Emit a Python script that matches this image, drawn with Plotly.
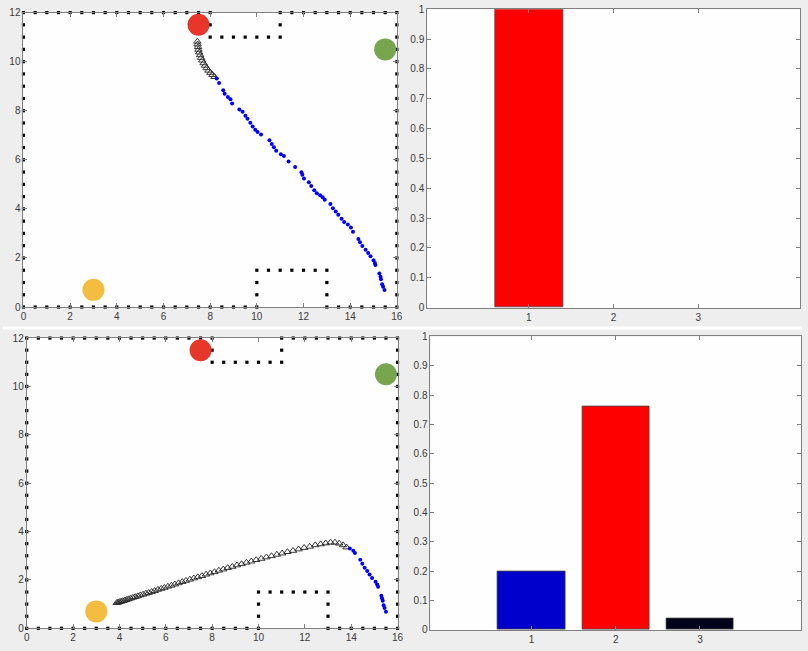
import numpy as np
import plotly.graph_objects as go

# ---------------- data ----------------
# wall segments (x0, y0, x1, y1); wall blocks are placed every 0.5 units along them
wall_segments = [
    (0, 0, 10, 0), (13, 0, 16, 0),          # bottom wall (with gap at obstacle)
    (10, 0.5, 10, 1.5), (13, 0.5, 13, 1.5),  # obstacle sides
    (10.5, 1.5, 12.5, 1.5),                  # obstacle top
    (0, 12, 8, 12), (11, 12, 16, 12),        # top wall
    (8, 11, 8, 11.5), (11, 11, 11, 11.5),    # notch sides
    (8.5, 11, 10.5, 11),                     # notch bottom
    (0, 0.5, 0, 11.5), (16, 0.5, 16, 11.5),  # left / right walls
]
wall_step = 0.5

goal_names = ["red", "green", "yellow"]
goal_x = [7.5, 15.5, 3.0]
goal_y = [11.5, 10.5, 0.7]
goal_colors = ["#e8372a", "#78a64f", "#f4bd41"]

# top panel trajectory
top_tri_x = [7.45, 7.46, 7.48, 7.50, 7.53, 7.57, 7.61, 7.66, 7.72, 7.78, 7.85, 7.93, 8.01, 8.10, 8.19]
top_tri_y = [10.82, 10.71, 10.60, 10.49, 10.38, 10.27, 10.16, 10.05, 9.94, 9.84, 9.74, 9.64, 9.55, 9.46, 9.38]
top_dot_x = [8.28, 8.38, 8.56, 8.62, 8.76, 8.87, 8.94, 9.25, 9.39, 9.51, 9.60, 9.72, 9.82, 9.93, 10.03,
             10.18, 10.54, 10.64, 10.73, 10.83, 11.03, 11.16, 11.36, 11.64, 11.91, 11.95, 12.02, 12.23,
             12.33, 12.46, 12.57, 12.71, 12.82, 12.91, 13.15, 13.26, 13.38, 13.49, 13.63, 13.74, 13.90,
             14.03, 14.12, 14.35, 14.42, 14.52, 14.66, 14.77, 14.87, 15.00, 15.06, 15.08, 15.25, 15.30,
             15.32, 15.37, 15.41, 15.47]
top_dot_y = [9.31, 9.13, 8.83, 8.69, 8.56, 8.47, 8.29, 8.05, 7.96, 7.80, 7.67, 7.51, 7.36, 7.23, 7.13,
             7.03, 6.80, 6.64, 6.51, 6.37, 6.23, 6.16, 5.93, 5.71, 5.49, 5.39, 5.24, 5.09,
             4.93, 4.76, 4.64, 4.56, 4.47, 4.37, 4.20, 4.03, 3.89, 3.76, 3.60, 3.47, 3.36,
             3.24, 3.07, 2.77, 2.64, 2.49, 2.33, 2.20, 2.07, 1.91, 1.80, 1.71, 1.37, 1.23,
             1.13, 0.93, 0.83, 0.69]

# bottom panel trajectory
bot_tri_x = [3.88, 3.94, 4.00, 4.07, 4.14, 4.22, 4.30, 4.39, 4.48, 4.58, 4.68, 4.79, 4.90, 5.02, 5.14,
             5.26, 5.39, 5.52, 5.66, 5.80, 5.94, 6.09, 6.24, 6.39, 6.55, 6.71, 6.87, 7.04, 7.21, 7.38,
             7.56, 7.74, 7.92, 8.10, 8.29, 8.48, 8.67, 8.87, 9.07, 9.27, 9.48, 9.69, 9.90, 10.12, 10.34,
             10.56, 10.79, 11.02, 11.25, 11.49, 11.73, 11.97, 12.21, 12.45, 12.68, 12.90, 13.11, 13.30,
             13.48, 13.65, 13.80]
bot_tri_y = [1.05, 1.07, 1.09, 1.11, 1.13, 1.15, 1.18, 1.21, 1.24, 1.27, 1.30, 1.33, 1.37, 1.40, 1.44,
             1.47, 1.51, 1.55, 1.60, 1.64, 1.68, 1.73, 1.77, 1.82, 1.87, 1.92, 1.97, 2.02, 2.07, 2.12,
             2.17, 2.23, 2.28, 2.33, 2.39, 2.44, 2.50, 2.55, 2.61, 2.66, 2.72, 2.77, 2.83, 2.88, 2.94,
             2.99, 3.05, 3.10, 3.16, 3.21, 3.27, 3.33, 3.38, 3.44, 3.48, 3.52, 3.55, 3.55,
             3.51, 3.44, 3.35]
bot_dot_x = [13.94, 14.09, 14.16, 14.39, 14.48, 14.58, 14.69, 14.79, 14.90, 15.05, 15.12, 15.16,
             15.30, 15.33, 15.36, 15.40, 15.44, 15.50]
bot_dot_y = [3.30, 3.21, 3.11, 2.83, 2.67, 2.50, 2.37, 2.22, 2.08, 1.92, 1.81, 1.72,
             1.35, 1.24, 1.14, 0.95, 0.84, 0.68]

# bar charts
bar_categories = [1, 2, 3]
top_bar_values = [1.0, 0.0, 0.0]
top_bar_colors = ["#ff0000", "#0000cc", "#00001a"]
bot_bar_values = [0.20, 0.76, 0.04]
bot_bar_colors = ["#0000cc", "#ff0000", "#00001a"]

# ---------------- build wall points ----------------
wall_x, wall_y = [], []
for x0, y0, x1, y1 in wall_segments:
    n = int(round(max(abs(x1 - x0), abs(y1 - y0)) / wall_step)) + 1
    wall_x += list(np.linspace(x0, x1, n))
    wall_y += list(np.linspace(y0, y1, n))

FONT = "Liberation Sans, Arial, Helvetica, sans-serif"
W, H = 808, 651

fig = go.Figure()


def add_map(xa, ya, tri_x, tri_y, dot_x, dot_y):
    fig.add_trace(go.Scatter(x=wall_x, y=wall_y, mode="markers", xaxis=xa, yaxis=ya,
                             marker=dict(symbol="square", size=3.2, color="#000000", line=dict(width=0)),
                             cliponaxis=False, showlegend=False, hoverinfo="skip"))
    fig.add_trace(go.Scatter(x=goal_x, y=goal_y, mode="markers", xaxis=xa, yaxis=ya,
                             text=goal_names,
                             marker=dict(size=22, color=goal_colors, line=dict(width=0)),
                             cliponaxis=False, showlegend=False))
    fig.add_trace(go.Scatter(x=tri_x, y=tri_y, mode="markers", xaxis=xa, yaxis=ya,
                             marker=dict(symbol="triangle-up-open", size=6.5, color="#222222",
                                         line=dict(width=0.9)),
                             showlegend=False))
    fig.add_trace(go.Scatter(x=dot_x, y=dot_y, mode="markers", xaxis=xa, yaxis=ya,
                             marker=dict(size=4, color="#0000ff"),
                             showlegend=False))


add_map("x", "y", top_tri_x, top_tri_y, top_dot_x, top_dot_y)
add_map("x3", "y3", bot_tri_x, bot_tri_y, bot_dot_x, bot_dot_y)


def bar_edges(values):
    return [0.8 if v > 0 else 0 for v in values]


fig.add_trace(go.Bar(x=bar_categories, y=top_bar_values, xaxis="x2", yaxis="y2", width=0.8,
                     marker=dict(color=top_bar_colors,
                                 line=dict(color="#444444", width=bar_edges(top_bar_values))),
                     showlegend=False))
fig.add_trace(go.Bar(x=bar_categories, y=bot_bar_values, xaxis="x4", yaxis="y4", width=0.8,
                     marker=dict(color=bot_bar_colors,
                                 line=dict(color="#444444", width=bar_edges(bot_bar_values))),
                     showlegend=False))

axis_style = dict(showline=True, linecolor="#808080", linewidth=1, mirror="ticks",
                  ticks="inside", ticklen=4, tickcolor="#808080", tickwidth=1,
                  showgrid=False, zeroline=False,
                  tickfont=dict(family=FONT, size=10, color="#3a3a3a"))


def px_x(a, b):
    return [a / W, b / W]


def px_y(top, bottom):
    return [1 - bottom / H, 1 - top / H]


fig.update_layout(
    width=W, height=H, autosize=False,
    margin=dict(l=0, r=0, t=0, b=0),
    paper_bgcolor="#eeeeee", plot_bgcolor="#fefefe",
    bargap=0,
    xaxis=dict(domain=px_x(20.7, 398.3), range=[0, 16], tickvals=list(range(0, 17, 2)),
               anchor="y", **axis_style),
    yaxis=dict(domain=px_y(6.7, 306.7), range=[0, 12], tickvals=list(range(0, 13, 2)),
               anchor="x", **axis_style),
    xaxis2=dict(domain=px_x(429, 806), range=[-0.2, 4.2], tickvals=bar_categories,
                anchor="y2", **axis_style),
    yaxis2=dict(domain=px_y(3.3, 307.3), range=[0, 1], dtick=0.1, tick0=0,
                anchor="x2", **axis_style),
    xaxis3=dict(domain=px_x(24, 399), range=[0, 16], tickvals=list(range(0, 17, 2)),
                anchor="y3", **axis_style),
    yaxis3=dict(domain=px_y(338.3, 634), range=[0, 12], tickvals=list(range(0, 13, 2)),
                anchor="x3", **axis_style),
    xaxis4=dict(domain=px_x(432.3, 807), range=[-0.2, 4.2], tickvals=bar_categories,
                anchor="y4", **axis_style),
    yaxis4=dict(domain=px_y(336.7, 635.7), range=[0, 1], dtick=0.1, tick0=0,
                anchor="x4", **axis_style),
    shapes=[dict(type="rect", xref="paper", yref="paper", x0=0, x1=1,
                 y0=1 - 329.5 / H, y1=1 - 326.5 / H, fillcolor="#ffffff",
                 line=dict(width=0), layer="below")],
)

fig.write_html("out.html", config={"displayModeBar": False},
               post_script="document.body.style.margin='0';document.body.style.padding='0';")
